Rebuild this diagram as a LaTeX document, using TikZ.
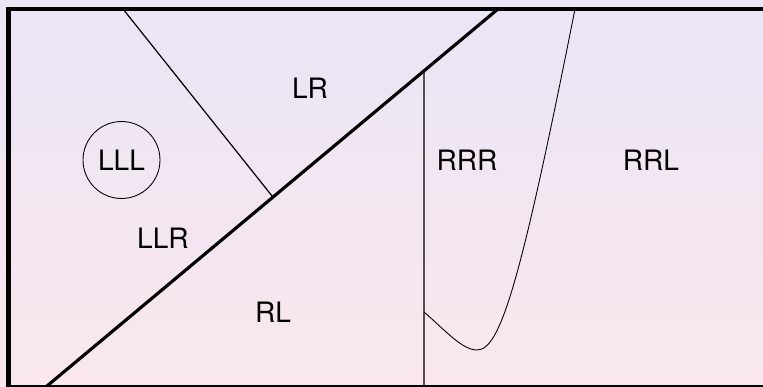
\documentclass[tikz,border=0pt]{standalone}
\usepackage{fontspec}
\setmainfont{TeX Gyre Heros}
\definecolor{bgtop}{RGB}{235,229,246}
\definecolor{bgbot}{RGB}{249,231,237}
\tikzset{
  region/.style={font=\fontsize{16}{19}\selectfont, inner sep=0pt},
  cut/.style={line width=1.8pt},
  split/.style={line width=0.7pt}
}
\begin{document}
\begin{tikzpicture}[x=0.02cm, y=0.02cm]
    \useasboundingbox (0,0) rectangle (763,386);
    % Sfondo sfumato
    \shade[top color=bgtop, bottom color=bgbot] (0,0) rectangle (763,386);

    % Cornice
    \draw[line width=2.4pt] (8.5,-1.3) -- (8.5,377) -- (765.3,377) -- (765.3,-1.3) -- cycle;

    % Taglio principale (diagonale)
    \coordinate (dl) at (47,0);
    \coordinate (dh) at (498,377);
    \draw[cut] (dl) -- (dh);

    % Taglio a sinistra
    \coordinate (ltop) at (123,377);
    \draw[split] (ltop) -- (intersection of ltop--272,190 and dl--dh);

    % Taglio verticale a destra
    \coordinate (vb) at (424,0);
    \draw[split] (vb) -- (intersection of vb--424,377 and dl--dh);

    % Curva
    \draw[line width=0.5pt] (424,74) .. controls (445,56) and (462,36) .. (477,36)
        .. controls (500,36) and (520,100) .. (575,377);

    % Etichette
    \node[region] (lr) at (310,298) {LR};
    \node[region, draw, circle, minimum size=1.54cm, line width=0.5pt] (lll) at (121.5,226) {LLL};
    \node[region] (llr) at (163,148) {LLR};
    \node[region] (rl) at (273,74) {RL};
    \node[region] (rrr) at (467,226) {RRR};
    \node[region] (rrl) at (651,226) {RRL};
\end{tikzpicture}
\end{document}
